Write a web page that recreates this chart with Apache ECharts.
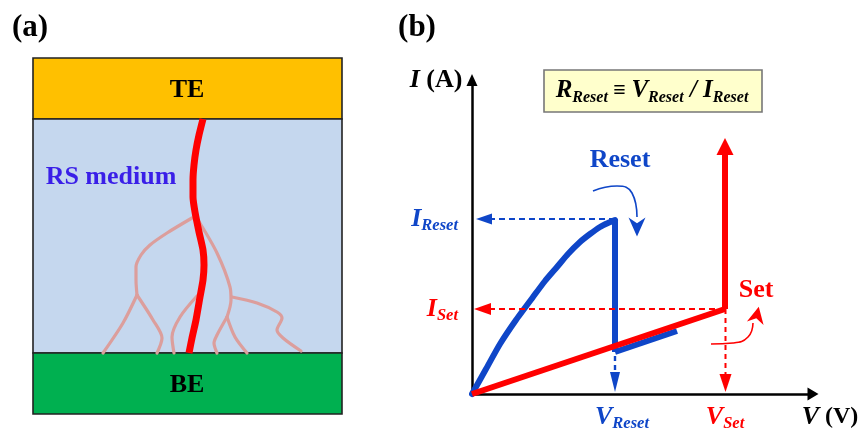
<!DOCTYPE html>
<html>
<head>
<meta charset="utf-8">
<title>RS switching</title>
<script src="https://cdn.jsdelivr.net/npm/echarts@6/dist/echarts.min.js"></script>
<style>html,body{margin:0;padding:0;background:#fff}</style>
</head>
<body>
<div id="main" style="width:858px;height:431px;"></div>
<script type="text/javascript">
// panel (a): x, y in picture pixels
var layerBoxes = [[33, 58, 342, 119], [33, 119, 342, 353], [33, 353, 342, 414]];
var layerColors = ['#FFC000', '#C5D7EE', '#00B050'];
var mainFilament = [[203, 119], [199, 135], [196, 150], [194, 165], [193, 180], [193, 197], [195, 212], [199, 232], [203, 250], [204, 265], [203, 280], [200, 297], [196, 320], [192, 338], [189, 353]];
var weakFilaments = [
    [[192, 218], [167, 233], [150, 245], [141, 255], [136, 267], [136, 280], [137, 295]],
    [[137, 295], [123, 323], [103, 353]],
    [[137, 295], [153, 320], [162, 338], [157, 353]],
    [[197, 296], [180, 317], [172, 337], [174, 353]],
    [[198, 220], [217, 253], [230, 287], [231, 300], [227, 317]],
    [[227, 317], [217, 335], [214, 343], [217, 353]],
    [[227, 317], [235, 337], [247, 353]],
    [[232, 297], [257, 303], [277, 312], [282, 318], [277, 330], [283, 338], [301, 351]]
];

// panel (b): V and I, arbitrary units from the origin
var vTicks = [143, 253];
var iTicks = [175, 85];
var resetCurve = [[0, 0], [14, 25], [28, 50], [44, 74], [61, 97], [73, 113], [85, 127], [96, 140], [108, 152], [118, 160], [128, 167], [136, 171], [143, 174]];
var resetDrop = [[143, 174], [143, 42]];
var resetOff = [[143, 42], [205, 63]];
var setLine = [[0, 0], [253, 85]];
var setRise = [[253, 85], [253, 246]];
var iResetGuide = [[143, 175], [20, 175]];
var iSetGuide = [[253, 85], [19, 85]];
var vResetGuide = [[143, 38], [143, 20]];
var vSetGuide = [[253.5, 85], [253.5, 20]];
var resetSweep = [[121, 203], [145, 208], [160, 201], [165, 177]];
var setSweep = [[239, 50], [261, 51], [276, 57], [281, 71]];

var BLUE = '#0F46C8';
var RED = '#FF0000';
var PINK = '#DC9E9C';
var STEALTH = 'path://M5,0L10,10L5,7L0,10Z';
var SERIF = 'Liberation Serif';

var arrowHeads = [
    {at: [253, 247.5], size: [17, 17], rot: 0, color: RED, symbol: 'triangle'},
    {at: [12, 175], size: [11, 16], rot: 90, color: BLUE, symbol: 'triangle'},
    {at: [10.5, 85], size: [12, 17], rot: 90, color: RED, symbol: 'triangle'},
    {at: [143, 12], size: [10, 20], rot: 180, color: BLUE, symbol: 'triangle'},
    {at: [253.5, 11], size: [12, 18], rot: 180, color: RED, symbol: 'triangle'},
    {at: [165, 167], size: [17, 19], rot: 180, color: BLUE, symbol: STEALTH},
    {at: [285, 79], size: [17, 17], rot: -12, color: RED, symbol: STEALTH}
];

// text placed in picture pixels
var labelTexts = ['{b|(a)}', '{b|(b)}', '{c|TE}', '{c|BE}', '{c|RS medium}', '{c|Reset}', '{c|Set}',
    '{i|I}{c| (A)}', '{i|V}{d| (V)}',
    '{f|R}{g|Reset}{e| ≡ }{f|V}{g|Reset}{f| / I}{g|Reset}'];
var labelX = [30, 417, 187, 187, 111, 620, 756, 436, 830, 652];
var labelY = [28, 28, 90, 385, 177, 160, 290, 80, 417, 91];
var labelColors = ['#000', '#000', '#000', '#000', '#3A1FE8', BLUE, RED, '#000', '#000', '#000'];

function txt(size, color, italic) {
    return {fontFamily: SERIF, fontWeight: 'bold', fontStyle: italic ? 'italic' : 'normal', fontSize: size, color: color};
}

// big letter stays up, subscript drops to the line bottom
function up(style) { style.height = 34; style.verticalAlign = 'top'; return style; }
function down(style) { style.height = 20; style.verticalAlign = 'bottom'; return style; }

function richFor(color) {
    return {
        b: txt(31, color), c: txt(26, color), d: txt(24, color),
        i: up(txt(26, color, true)), s: down(txt(16.5, color, true)),
        f: up(txt(25, color, true)), g: down(txt(16, color, true)),
        e: up(txt(22, color))
    };
}

function curve(pts, color, width, axis, opts) {
    opts = opts || {};
    return {
        type: 'line', xAxisIndex: axis, yAxisIndex: axis, data: pts, showSymbol: false, silent: true,
        smooth: opts.smooth || false, clip: false,
        lineStyle: {color: color, width: width, type: opts.dash || 'solid', cap: opts.cap || 'butt', join: 'round'}
    };
}

var series = [];

function box(b, fill, stroke) {
    return {
        type: 'custom', xAxisIndex: 0, yAxisIndex: 0, silent: true, clip: false,
        data: [b],
        renderItem: function (params, api) {
            var a = api.coord([api.value(0), api.value(1)]);
            var c = api.coord([api.value(2), api.value(3)]);
            return {
                type: 'rect',
                shape: {x: a[0], y: a[1], width: c[0] - a[0], height: c[1] - a[1]},
                style: {fill: fill, stroke: stroke, lineWidth: 1.6}
            };
        }
    };
}

// layers
layerBoxes.forEach(function (b, i) {
    series.push(box(b, layerColors[i], '#222'));
});
series.push(box([544, 70, 762, 112], '#FFFFCC', '#777'));

weakFilaments.forEach(function (f) {
    series.push(curve(f, PINK, 3.2, 0, {smooth: 0.3, cap: 'round'}));
});
series.push(curve(mainFilament, RED, 7, 0, {smooth: 0.2}));

// the "reset" branch goes under the "set" one
series.push(curve(resetCurve, BLUE, 6, 1, {smooth: 0.2, cap: 'round'}));
series.push(curve(resetDrop, BLUE, 6, 1));
series.push(curve(resetOff, BLUE, 6, 1));
series.push(curve(iResetGuide, BLUE, 2, 1, {dash: [6, 4]}));
series.push(curve(vResetGuide, BLUE, 2.4, 1, {dash: [5, 4]}));
series.push(curve(resetSweep, BLUE, 1.6, 1, {smooth: 0.5}));
series.push(curve(iSetGuide, RED, 2, 1, {dash: [6, 4]}));
series.push(curve(vSetGuide, RED, 2, 1, {dash: [5, 4]}));
series.push(curve(setLine, RED, 6, 1));
series.push(curve(setRise, RED, 6, 1));
series.push(curve(setSweep, RED, 1.6, 1, {smooth: 0.5}));

arrowHeads.forEach(function (h) {
    series.push({
        type: 'scatter', xAxisIndex: 1, yAxisIndex: 1, silent: true, clip: false,
        data: [h.at], symbol: h.symbol, symbolSize: h.size, symbolRotate: h.rot,
        itemStyle: {color: h.color, opacity: 1}
    });
});

labelTexts.forEach(function (t, i) {
    series.push({
        type: 'scatter', xAxisIndex: 0, yAxisIndex: 0, silent: true, clip: false,
        data: [[labelX[i], labelY[i]]], symbolSize: 1, itemStyle: {color: 'transparent', opacity: 1},
        label: {show: true, position: 'inside', formatter: t, rich: richFor(labelColors[i])}
    });
});

var blueRich = richFor(BLUE), redRich = richFor(RED);
// VReset sits a bit right of its tick
var shiftedV = up(txt(26, BLUE, true));
shiftedV.padding = [0, 0, 0, 14];

var option = {
    animation: false,
    backgroundColor: '#fff',
    tooltip: {show: false},
    grid: [
        {left: 0, top: 0, width: 858, height: 431, outerBoundsMode: 'none'},
        {left: 472, top: 80, width: 341, height: 314, outerBoundsMode: 'none'}
    ],
    xAxis: [
        {gridIndex: 0, type: 'value', min: 0, max: 858, show: false},
        {
            gridIndex: 1, type: 'value', min: 0, max: 341, splitLine: {show: false},
            axisLine: {show: true, onZero: false, symbol: ['none', 'triangle'], symbolSize: [13, 11], lineStyle: {color: '#000', width: 2.5}},
            axisTick: {show: false},
            axisLabel: {
                customValues: vTicks, margin: 6, hideOverlap: false,
                formatter: function (v) { return v === vTicks[0] ? '{bi|V}{bs|Reset}' : '{ri|V}{rs|Set}'; },
                rich: {bi: shiftedV, bs: blueRich.s, ri: redRich.i, rs: redRich.s}
            }
        }
    ],
    yAxis: [
        {gridIndex: 0, type: 'value', min: 0, max: 431, inverse: true, show: false},
        {
            gridIndex: 1, type: 'value', min: 0, max: 314, splitLine: {show: false},
            axisLine: {show: true, onZero: false, symbol: ['none', 'triangle'], symbolSize: [11, 12], lineStyle: {color: '#000', width: 2.5}},
            axisTick: {show: false},
            axisLabel: {
                customValues: iTicks, margin: 14, hideOverlap: false,
                formatter: function (v) { return v === iTicks[0] ? '{bi|I}{bs|Reset}' : '{ri|I}{rs|Set}'; },
                rich: {bi: blueRich.i, bs: blueRich.s, ri: redRich.i, rs: redRich.s}
            }
        }
    ],
    series: series
};

var myChart = echarts.init(document.getElementById('main'));
myChart.setOption(option);
</script>
</body>
</html>
